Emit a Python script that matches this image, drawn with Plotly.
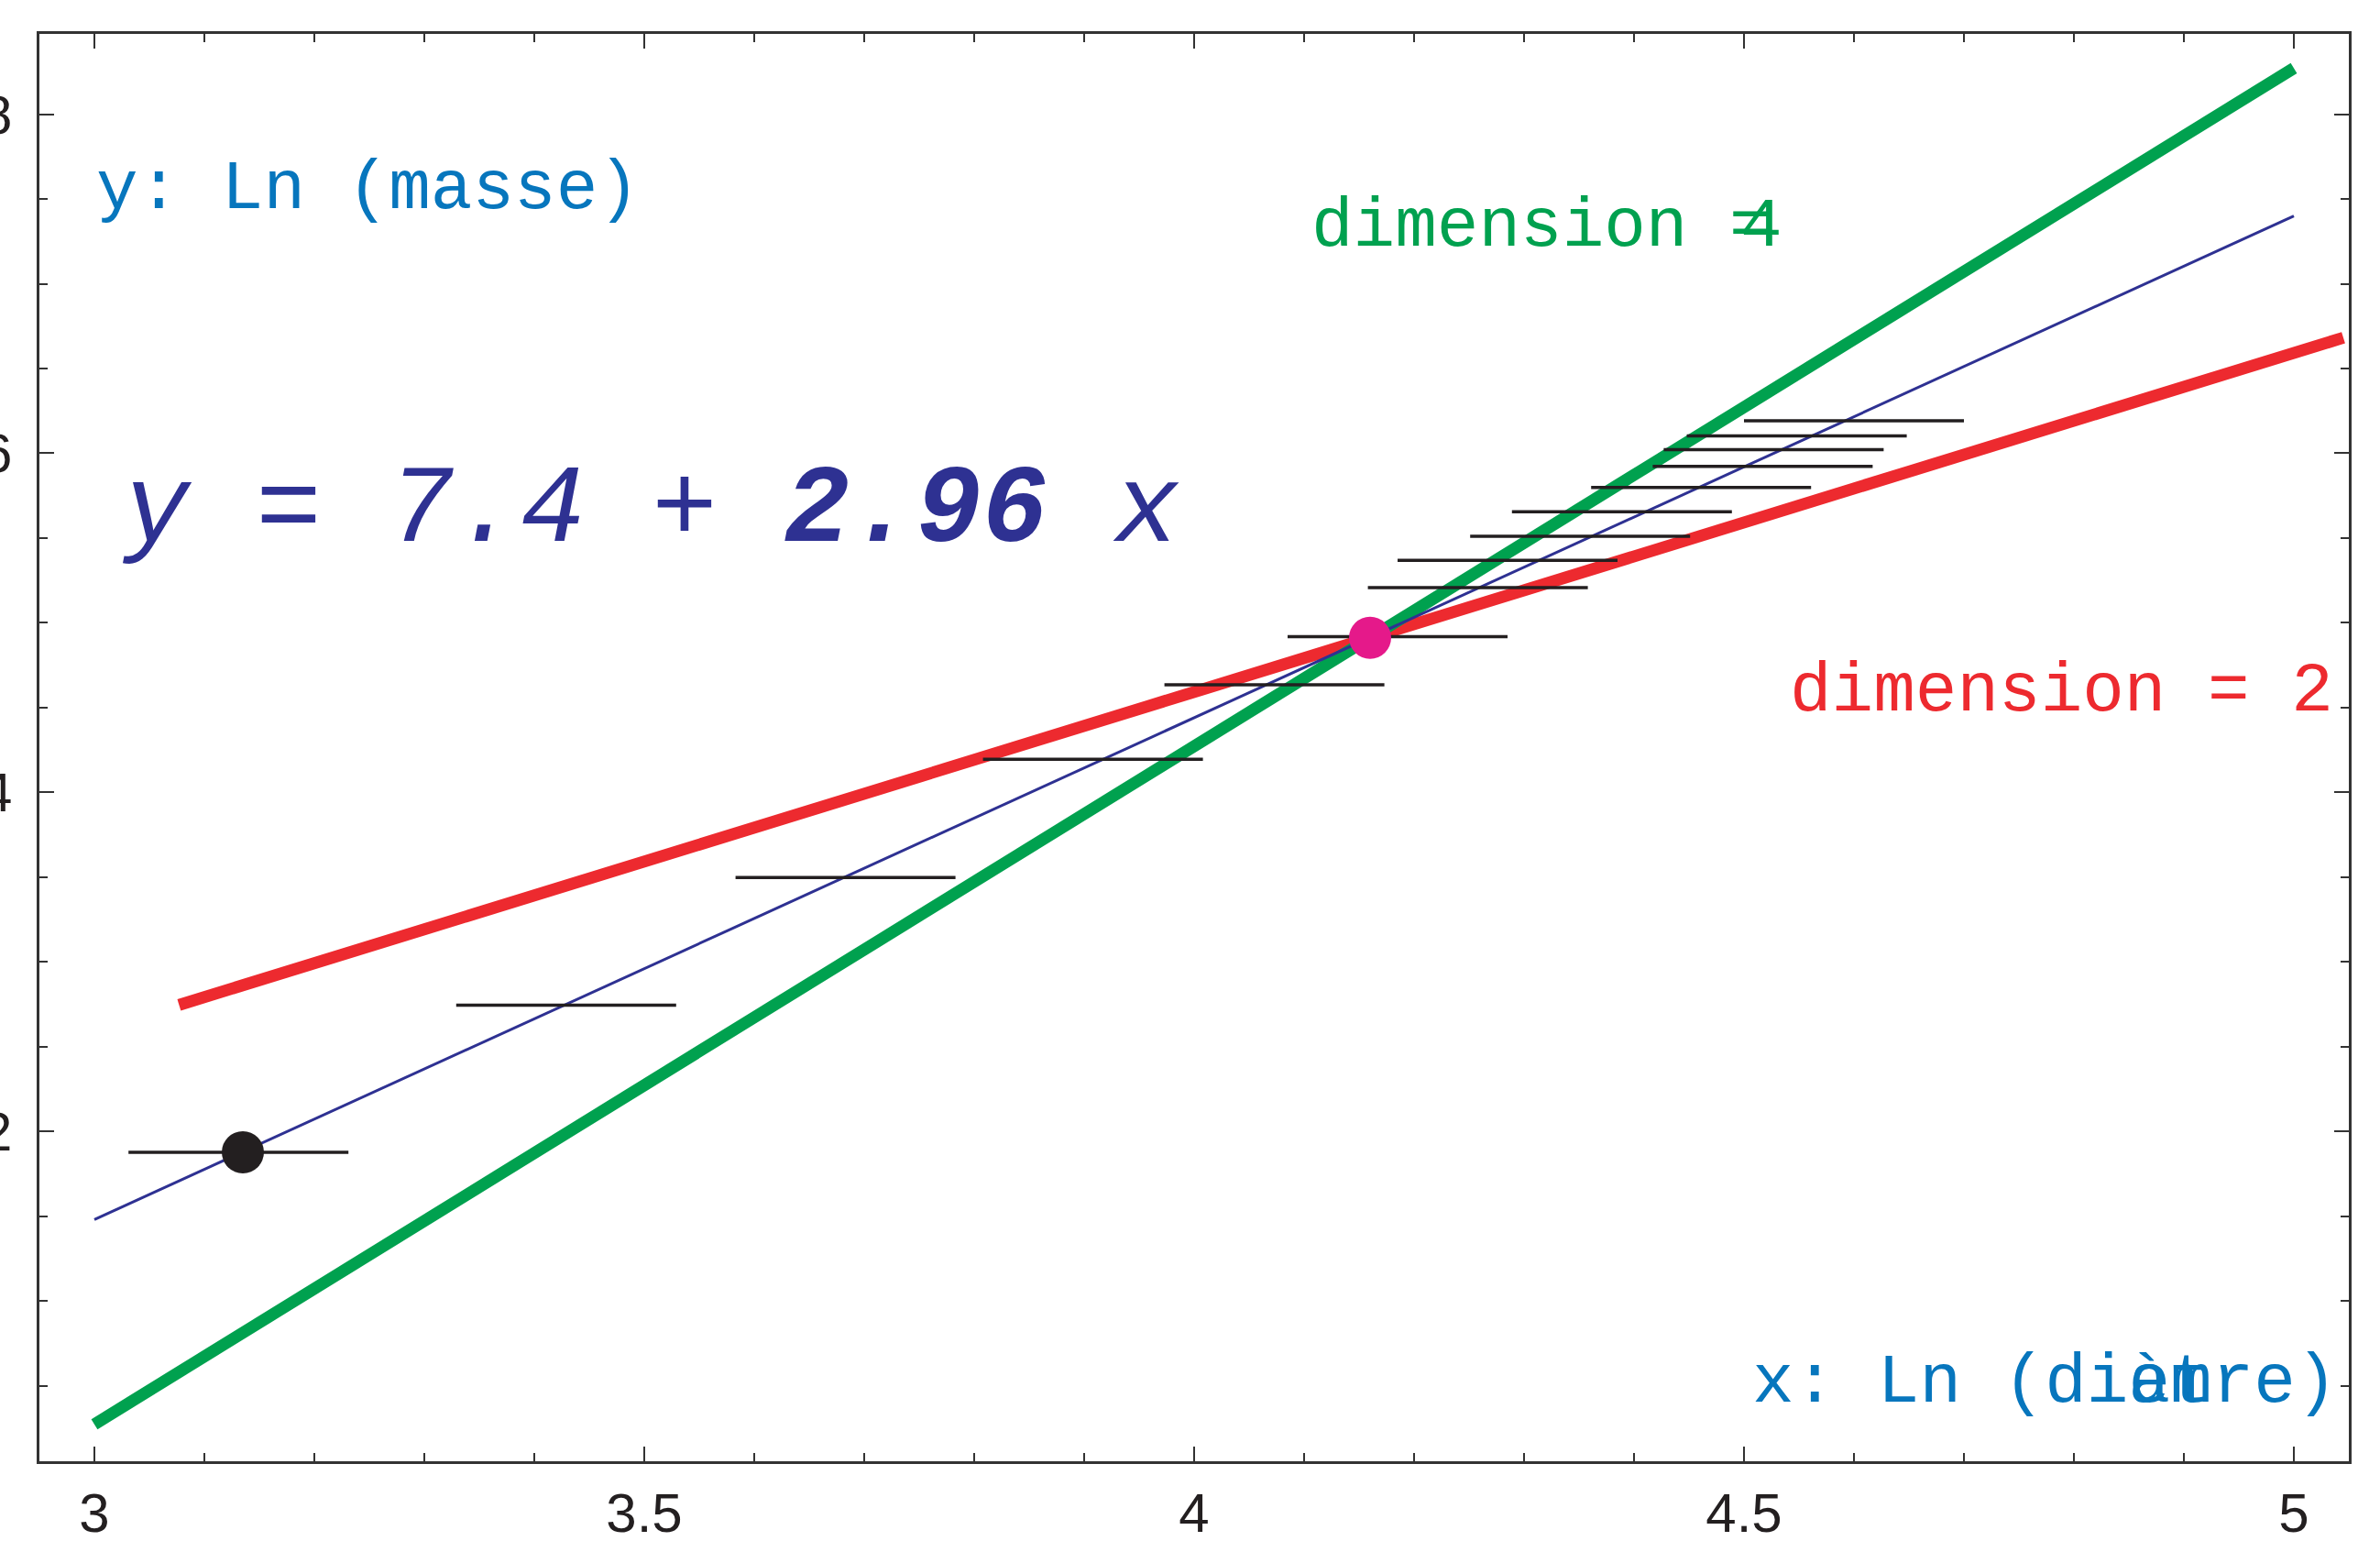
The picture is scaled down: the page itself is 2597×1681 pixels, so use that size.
import plotly.graph_objects as go

# Measured points (Ln diameter, Ln mass); each has a +/-0.1 horizontal spread
seg_x = [3.131, 3.429, 3.683, 3.908, 4.073, 4.185, 4.258, 4.285, 4.351,
         4.389, 4.461, 4.517, 4.527, 4.548, 4.600]
seg_y = [1.877, 2.745, 3.497, 4.195, 4.634, 4.918, 5.207, 5.368, 5.511,
         5.655, 5.798, 5.923, 6.022, 6.102, 6.192]
seg_half_width = 0.1

# Least-squares fit  y = intercept + slope * x
fit_intercept = -7.4
fit_slope = 2.96
fit_x = [3.0, 5.0]

# Reference point where the dimension lines pivot, and the first point
pivot_x, pivot_y = 4.160, 4.912
first_x, first_y = 3.135, 1.877

# Reference slopes: dimension 4 and dimension 2
dim4_slope, dim4_x = 4.0, [3.0, 5.0]
dim2_slope, dim2_x = 2.0, [3.077, 5.045]

x_ticks = [3, 3.5, 4, 4.5, 5]
y_ticks = [2, 4, 6, 8]

GREEN = "#00A14F"
RED = "#ED2A2F"
NAVY = "#2E3192"
BLUE = "#0776BD"
MAGENTA = "#E5198A"
INK = "#231F20"
MONO = "Liberation Mono, Courier New, monospace"

fig = go.Figure()

fig.add_trace(go.Scatter(
    x=dim2_x, y=[pivot_y + dim2_slope * (v - pivot_x) for v in dim2_x],
    mode="lines", line=dict(color=RED, width=13), hoverinfo="skip"))

fig.add_trace(go.Scatter(
    x=dim4_x, y=[pivot_y + dim4_slope * (v - pivot_x) for v in dim4_x],
    mode="lines", line=dict(color=GREEN, width=13), hoverinfo="skip"))

fig.add_trace(go.Scatter(
    x=fit_x, y=[fit_intercept + fit_slope * v for v in fit_x],
    mode="lines", line=dict(color=NAVY, width=3), hoverinfo="skip"))

fig.add_trace(go.Scatter(
    x=seg_x, y=seg_y, mode="markers",
    marker=dict(size=1, color="rgba(0,0,0,0)"),
    error_x=dict(type="constant", value=seg_half_width, width=0,
                 thickness=3.5, color=INK)))

fig.add_trace(go.Scatter(
    x=[first_x], y=[first_y], mode="markers",
    marker=dict(size=46, color=INK)))

fig.add_trace(go.Scatter(
    x=[pivot_x], y=[pivot_y], mode="markers",
    marker=dict(size=46, color=MAGENTA)))

NB = "\u00a0"
text_size = 76

def note(x, y, text, color, size=text_size, xshift=0):
    fig.add_annotation(x=x, y=y, text=text, showarrow=False,
                       xanchor="left", yanchor="middle", xshift=xshift,
                       font=dict(family=MONO, size=size, color=color))

note(3.0, 7.553, "y:" + NB + "Ln" + NB + "(masse)", BLUE)
note(4.105, 7.331, "dimension" + NB + "=", GREEN)
note(4.105, 7.331, NB * 10 + "4", GREEN, xshift=12)
note(4.540, 4.591, "dimension" + NB + "=" + NB + "2", RED)
note(4.506, 0.515, "x:" + NB + "Ln" + NB + "(di\u00e8tre)", BLUE)
note(4.506, 0.515, NB * 9 + "am", BLUE)
note(3.024, 5.656,
     "<i>y" + NB + "=" + NB + "7.4" + NB + "+" + NB + "<b>2.96</b>" + NB + "x</i>",
     NAVY, size=120)

axis_common = dict(
    showline=True, linecolor="#333333", linewidth=2.5, mirror="allticks",
    ticks="inside", ticklen=16, tickwidth=2, tickcolor="#333333",
    showgrid=False, zeroline=False, automargin=False,
    tickfont=dict(family="Liberation Sans, Arial, sans-serif", size=60,
                  color=INK),
)

fig.update_xaxes(range=[2.95, 5.05], tickvals=x_ticks,
                 ticktext=[str(v) for v in x_ticks],
                 minor=dict(ticks="inside", dtick=0.1, ticklen=9, tickwidth=1.5,
                            tickcolor="#333333"),
                 ticklabelstandoff=2, **axis_common)
fig.update_yaxes(range=[0.054, 8.474], tickvals=y_ticks,
                 ticktext=[str(v) for v in y_ticks],
                 minor=dict(ticks="inside", dtick=0.5, ticklen=9, tickwidth=1.5,
                            tickcolor="#333333"),
                 ticklabelstandoff=15, **axis_common)

fig.update_layout(
    width=2597, height=1681,
    margin=dict(l=43, r=34, t=37, b=87),
    plot_bgcolor="white", paper_bgcolor="white",
    showlegend=False,
)

fig.write_html("out.html")
